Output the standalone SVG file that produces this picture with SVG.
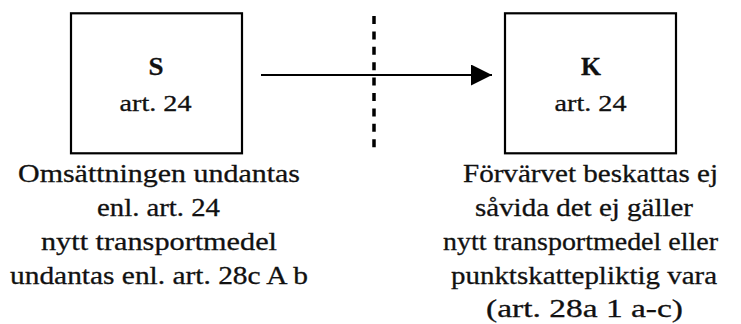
<svg xmlns="http://www.w3.org/2000/svg" width="741" height="324" viewBox="0 0 741 324">
<style>
.box{fill:#fff;stroke:#000;stroke-width:2.2}
.t{font-family:"Liberation Serif","Times New Roman",serif;fill:#111;stroke:#111;stroke-width:0.3;text-anchor:middle}
.b{font-size:24px}
.bold{font-weight:bold;font-size:26px}
.l{font-size:26px}
</style>
<defs>
<marker id="ah" markerWidth="21" markerHeight="21" refX="21" refY="10.5" orient="auto" markerUnits="userSpaceOnUse">
<path d="M0,0 L21,10.5 L0,21 Z" fill="#000"/>
</marker>
</defs>
<rect width="741" height="324" fill="#fff"/>
<g id="connectors">
<line x1="261" y1="75" x2="492" y2="75" stroke="#000" stroke-width="2" marker-end="url(#ah)"/>
<line x1="374" y1="16" x2="374" y2="151" stroke="#000" stroke-width="3.5" stroke-dasharray="8 7.4"/>
</g>
<g id="node-S">
<rect class="box" x="71" y="13.3" width="171" height="140"/>
<text class="t bold" x="156" y="75" textLength="15" lengthAdjust="spacingAndGlyphs">S</text>
<text class="t b" x="155.5" y="111" textLength="72" lengthAdjust="spacingAndGlyphs">art. 24</text>
</g>
<g id="node-K">
<rect class="box" x="505" y="13.3" width="171" height="140"/>
<text class="t bold" x="591" y="75" textLength="20" lengthAdjust="spacingAndGlyphs">K</text>
<text class="t b" x="590.5" y="111" textLength="72" lengthAdjust="spacingAndGlyphs">art. 24</text>
</g>
<g id="label-S">
<text class="t l" x="159" y="182" textLength="282" lengthAdjust="spacingAndGlyphs">Omsättningen undantas</text>
<text class="t l" x="158.5" y="216" textLength="123" lengthAdjust="spacingAndGlyphs">enl. art. 24</text>
<text class="t l" x="159" y="250" textLength="236" lengthAdjust="spacingAndGlyphs">nytt transportmedel</text>
<text class="t l" x="159" y="284" textLength="298" lengthAdjust="spacingAndGlyphs">undantas enl. art. 28c A b</text>
</g>
<g id="label-K">
<text class="t l" x="590.5" y="182" textLength="255" lengthAdjust="spacingAndGlyphs">Förvärvet beskattas ej</text>
<text class="t l" x="584" y="216" textLength="218" lengthAdjust="spacingAndGlyphs">såvida det ej gäller</text>
<text class="t l" x="580.5" y="250" textLength="275" lengthAdjust="spacingAndGlyphs">nytt transportmedel eller</text>
<text class="t l" x="584" y="284" textLength="266" lengthAdjust="spacingAndGlyphs">punktskattepliktig vara</text>
<text class="t l" x="584.5" y="317" textLength="197" lengthAdjust="spacingAndGlyphs">(art. 28a 1 a-c)</text>
</g>
</svg>
